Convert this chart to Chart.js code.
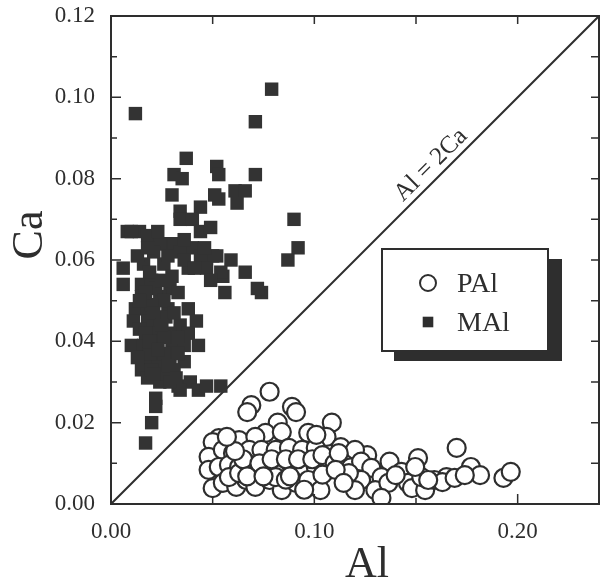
<!DOCTYPE html>
<html>
<head>
<meta charset="utf-8">
<script src="https://cdn.jsdelivr.net/npm/chart.js@4.4.1/dist/chart.umd.min.js"></script>
<style>
  html, body { margin: 0; padding: 0; background: #fff; overflow: hidden; }
  #wrap { width: 600px; height: 581px; position: relative; overflow: hidden; }
  canvas { display: block; }
</style>
</head>
<body>
<div id="wrap"><canvas id="chart"></canvas></div>
<script>
// PAl (open circles): Al, Ca
const pAlX = [0.078, 0.069, 0.067, 0.089, 0.091, 0.1086, 0.082, 0.076, 0.053, 0.050,
    0.063, 0.071, 0.084, 0.097, 0.106, 0.048, 0.055, 0.060, 0.068, 0.074,
    0.081, 0.0875, 0.094, 0.1007, 0.048, 0.053, 0.058, 0.063, 0.0665, 0.071,
    0.076, 0.0826, 0.089, 0.094, 0.1007, 0.107, 0.050, 0.055, 0.0616, 0.0665,
    0.071, 0.078, 0.084, 0.091, 0.097, 0.103, 0.058, 0.063, 0.081, 0.065,
    0.073, 0.079, 0.086, 0.092, 0.099, 0.104, 0.110, 0.115, 0.086, 0.061,
    0.057, 0.067, 0.075, 0.088, 0.095, 0.104, 0.113, 0.126, 0.118, 0.101,
    0.170, 0.120, 0.112, 0.137, 0.151, 0.165, 0.177, 0.1815, 0.193, 0.1966,
    0.123, 0.128, 0.133, 0.123, 0.120, 0.130, 0.1364, 0.1428, 0.146, 0.148,
    0.1545, 0.1526, 0.159, 0.163, 0.169, 0.174, 0.1496, 0.117, 0.1105, 0.1144,
    0.140, 0.156, 0.133];
const pAlY = [0.0276, 0.0243, 0.0226, 0.0239, 0.0226, 0.0200, 0.0200, 0.0175, 0.0162, 0.0152,
    0.0157, 0.0165, 0.0177, 0.0175, 0.0165, 0.0116, 0.0133, 0.0125, 0.0133, 0.0133,
    0.0133, 0.0138, 0.0133, 0.0138, 0.0084, 0.0091, 0.0096, 0.0091, 0.0101, 0.0084,
    0.0091, 0.0084, 0.0091, 0.0084, 0.0091, 0.0084, 0.0039, 0.0052, 0.0042, 0.0059,
    0.0042, 0.0059, 0.0034, 0.0052, 0.0059, 0.0034, 0.0066, 0.0076, 0.0066, 0.0110,
    0.0100, 0.0110, 0.0110, 0.0110, 0.0110, 0.0120, 0.0100, 0.0110, 0.0060, 0.0130,
    0.0165, 0.0068, 0.0068, 0.0068, 0.0035, 0.0072, 0.0140, 0.0120, 0.0090, 0.0170,
    0.0138, 0.0133, 0.0125, 0.0104, 0.0113, 0.0066, 0.0091, 0.0071, 0.0064, 0.0079,
    0.0104, 0.0089, 0.0066, 0.0059, 0.0034, 0.0034, 0.0052, 0.0079, 0.0052, 0.0039,
    0.0034, 0.0066, 0.0059, 0.0054, 0.0064, 0.0071, 0.0091, 0.0076, 0.0084, 0.0052,
    0.0071, 0.0059, 0.0015];

// MAl (filled squares): Al, Ca
const mAlX = [0.012, 0.079, 0.071, 0.037, 0.031, 0.035, 0.052, 0.053, 0.071, 0.030,
    0.053, 0.061, 0.066, 0.062, 0.034, 0.034, 0.044, 0.040, 0.044, 0.049,
    0.090, 0.092, 0.087, 0.074, 0.066, 0.056, 0.008, 0.014, 0.018, 0.006,
    0.006, 0.040, 0.027, 0.050, 0.059, 0.055, 0.010, 0.024, 0.031, 0.021,
    0.034, 0.044, 0.052, 0.016, 0.026, 0.038, 0.047, 0.054, 0.072, 0.015,
    0.020, 0.029, 0.015, 0.024, 0.033, 0.012, 0.018, 0.028, 0.038, 0.011,
    0.018, 0.024, 0.034, 0.042, 0.020, 0.029, 0.038, 0.010, 0.016, 0.023,
    0.030, 0.036, 0.043, 0.016, 0.021, 0.029, 0.036, 0.015, 0.023, 0.031,
    0.018, 0.024, 0.033, 0.039, 0.043, 0.047, 0.054, 0.034, 0.022, 0.022,
    0.020, 0.017, 0.019, 0.022, 0.026, 0.020, 0.027, 0.031, 0.014, 0.026,
    0.033, 0.019, 0.026, 0.033, 0.020, 0.027, 0.029, 0.013, 0.018, 0.028,
    0.036, 0.046, 0.023, 0.041, 0.049, 0.030, 0.017, 0.025, 0.036, 0.051,
    0.014, 0.021, 0.017, 0.025, 0.019, 0.023, 0.013, 0.028, 0.021, 0.032];
const mAlY = [0.096, 0.102, 0.094, 0.085, 0.081, 0.080, 0.083, 0.081, 0.081, 0.076,
    0.075, 0.077, 0.077, 0.074, 0.072, 0.070, 0.073, 0.070, 0.067, 0.068,
    0.070, 0.063, 0.060, 0.052, 0.057, 0.052, 0.067, 0.067, 0.066, 0.058,
    0.054, 0.063, 0.064, 0.061, 0.060, 0.056, 0.067, 0.064, 0.064, 0.062,
    0.062, 0.061, 0.061, 0.059, 0.059, 0.058, 0.058, 0.057, 0.053, 0.054,
    0.055, 0.053, 0.051, 0.051, 0.052, 0.048, 0.048, 0.048, 0.048, 0.045,
    0.045, 0.045, 0.044, 0.045, 0.042, 0.042, 0.042, 0.039, 0.039, 0.040,
    0.039, 0.039, 0.039, 0.036, 0.035, 0.036, 0.035, 0.033, 0.034, 0.033,
    0.031, 0.030, 0.029, 0.030, 0.028, 0.029, 0.029, 0.028, 0.026, 0.024,
    0.020, 0.015, 0.057, 0.053, 0.050, 0.049, 0.046, 0.047, 0.043, 0.041,
    0.041, 0.037, 0.037, 0.037, 0.033, 0.032, 0.030, 0.061, 0.063, 0.061,
    0.060, 0.063, 0.067, 0.058, 0.055, 0.056, 0.052, 0.055, 0.065, 0.076,
    0.050, 0.047, 0.042, 0.044, 0.040, 0.038, 0.036, 0.034, 0.032, 0.031];

// reference line Al = 2Ca
const lineAl = [0, 0.24];
const lineCa = [0, 0.12];

// axis ticks and labels
const xTickValues = [0, 0.05, 0.10, 0.15, 0.20];
const xTickLabels = ['0.00', '', '0.10', '', '0.20'];
const yTickValues = [0, 0.01, 0.02, 0.03, 0.04, 0.05, 0.06, 0.07, 0.08, 0.09, 0.10, 0.11, 0.12];
const yTickLabels = ['0.00', '', '0.02', '', '0.04', '', '0.06', '', '0.08', '', '0.10', '', '0.12'];

const ink = '#2e2e2e';
const serif = "'Liberation Serif', 'Times New Roman', serif";

function toPoints(xs, ys) {
    return xs.map((x, i) => ({x: x, y: ys[i]}));
}

// frame, inward tick marks, line label, axis titles and shadowed legend
const decorPlugin = {
    id: 'decor',
    afterDatasetsDraw(chart) {
        const ctx = chart.ctx;
        const ca = chart.chartArea;
        const xs = chart.scales.x;
        const ys = chart.scales.y;
        ctx.save();
        ctx.strokeStyle = ink;
        ctx.lineWidth = 2;
        ctx.strokeRect(ca.left, ca.top, ca.right - ca.left, ca.bottom - ca.top);

        ctx.lineWidth = 1.5;
        ctx.beginPath();
        xTickValues.forEach((v, i) => {
            const px = xs.getPixelForValue(v);
            const len = xTickLabels[i] ? 10 : 6;
            ctx.moveTo(px, ca.bottom); ctx.lineTo(px, ca.bottom - len);
            ctx.moveTo(px, ca.top); ctx.lineTo(px, ca.top + 8);
        });
        yTickValues.forEach((v, i) => {
            const py = ys.getPixelForValue(v);
            const len = yTickLabels[i] ? 10 : 6;
            ctx.moveTo(ca.left, py); ctx.lineTo(ca.left + len, py);
            ctx.moveTo(ca.right, py); ctx.lineTo(ca.right - 8, py);
        });
        ctx.stroke();

        // label along the Al = 2Ca line
        const x0 = xs.getPixelForValue(lineAl[0]), y0 = ys.getPixelForValue(lineCa[0]);
        const x1 = xs.getPixelForValue(lineAl[1]), y1 = ys.getPixelForValue(lineCa[1]);
        const ang = Math.atan2(y1 - y0, x1 - x0);
        ctx.save();
        ctx.translate(xs.getPixelForValue(0.162), ys.getPixelForValue(0.081));
        ctx.rotate(ang);
        ctx.fillStyle = ink;
        ctx.font = '25px ' + serif;
        ctx.textAlign = 'center';
        ctx.textBaseline = 'bottom';
        ctx.fillText('Al = 2Ca', 0, -1);
        ctx.restore();

        // axis titles
        ctx.fillStyle = ink;
        ctx.font = '44px ' + serif;
        ctx.textAlign = 'center';
        ctx.textBaseline = 'alphabetic';
        ctx.fillText('Al', (ca.left + ca.right) / 2 + 12, 577);
        ctx.save();
        ctx.translate(42, ca.top + 219);
        ctx.rotate(-Math.PI / 2);
        ctx.fillText('Ca', 0, 0);
        ctx.restore();

        // legend box with drop shadow
        const bx = ca.left + 271, by = ca.top + 233, bw = 166, bh = 102;
        ctx.fillStyle = ink;
        ctx.fillRect(bx + 12, by + 10, bw + 2, bh);
        ctx.fillStyle = '#fff';
        ctx.fillRect(bx, by, bw, bh);
        ctx.lineWidth = 2;
        ctx.strokeStyle = ink;
        ctx.strokeRect(bx, by, bw, bh);
        ctx.font = '28px ' + serif;
        ctx.textAlign = 'left';
        ctx.textBaseline = 'alphabetic';
        chart.data.datasets.forEach((ds, i) => {
            if (!ds.label) return;
            const cy = by + 34 + i * 39;
            const isRect = ds.pointStyle === 'rect';
            ctx.fillStyle = isRect ? ink : '#fff';
            ctx.strokeStyle = ink;
            ctx.lineWidth = 2;
            Chart.helpers.drawPoint(ctx, {
                pointStyle: ds.pointStyle,
                radius: isRect ? 7.5 : 8,
                borderWidth: isRect ? 0 : 2
            }, bx + 46, cy);
            ctx.fillStyle = ink;
            ctx.fillText(ds.label, bx + 75, cy + 9);
        });
        ctx.restore();
    }
};

new Chart(document.getElementById('chart'), {
    type: 'scatter',
    data: {
        datasets: [{
            label: 'PAl',
            data: toPoints(pAlX, pAlY),
            pointStyle: 'circle',
            pointRadius: 9,
            pointBorderWidth: 2.2,
            pointBorderColor: ink,
            pointBackgroundColor: '#fff'
        }, {
            label: 'MAl',
            data: toPoints(mAlX, mAlY),
            pointStyle: 'rect',
            pointRadius: 9.5,
            pointBorderWidth: 0,
            pointBackgroundColor: '#333333'
        }, {
            label: '',
            data: toPoints(lineAl, lineCa),
            showLine: true,
            borderColor: ink,
            borderWidth: 2,
            pointRadius: 0
        }]
    },
    options: {
        responsive: true,
        maintainAspectRatio: false,
        animation: false,
        layout: { autoPadding: false, padding: { top: 16, right: 1, left: 0, bottom: 0 } },
        plugins: {
            legend: { display: false },
            tooltip: { enabled: false }
        },
        scales: {
            x: {
                type: 'linear',
                min: 0,
                max: 0.24,
                afterBuildTicks: scale => { scale.ticks = xTickValues.map(v => ({value: v})); },
                afterFit: scale => {
                    scale.height = 77;
                    scale.paddingLeft = 0;
                    scale.paddingRight = 0;
                },
                grid: { display: false, drawTicks: false },
                border: { display: false },
                ticks: {
                    autoSkip: false,
                    maxRotation: 0,
                    padding: 14,
                    color: ink,
                    font: { family: serif, size: 23 },
                    callback: (v, i) => xTickLabels[i]
                }
            },
            y: {
                type: 'linear',
                min: 0,
                max: 0.12,
                afterBuildTicks: scale => { scale.ticks = yTickValues.map(v => ({value: v})); },
                afterFit: scale => {
                    scale.width = 111;
                    scale.paddingTop = 0;
                    scale.paddingBottom = 0;
                },
                grid: { display: false, drawTicks: false },
                border: { display: false },
                ticks: {
                    autoSkip: false,
                    padding: 16,
                    color: ink,
                    font: { family: serif, size: 23 },
                    callback: (v, i) => yTickLabels[i]
                }
            }
        }
    },
    plugins: [decorPlugin]
});
</script>
</body>
</html>
